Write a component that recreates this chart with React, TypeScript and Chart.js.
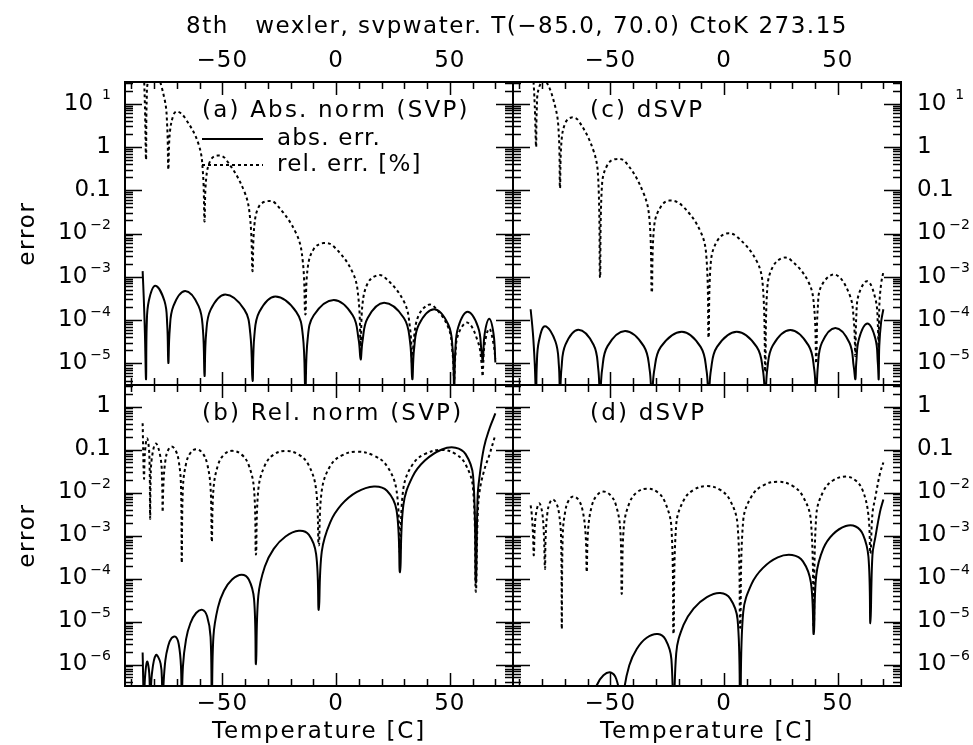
import React, { useEffect, useRef } from "react";
import { Chart, registerables } from "chart.js";

Chart.register(...registerables);

const WIDTH = 973;
const HEIGHT = 745;

// ---------- texts & ticks ----------
const mainTitle = "8th   wexler, svpwater. T(\u221285.0, 70.0) CtoK 273.15";
const xAxisTitle = "Temperature [C]";
const yAxisTitle = "error";
const xTickMajor = [-50, 0, 50];
const xTickLabels = ["\u221250", "0", "50"];
const xTickMinor = [-90, -80, -70, -60, -40, -30, -20, -10, 10, 20, 30, 40, 60, 70];
const topDecades = [1, 0, -1, -2, -3, -4, -5];
const bottomDecades = [0, -1, -2, -3, -4, -5, -6];
const xRange = [-92.75, 77.75];
const topRange = [3.1623e-6, 31.623];
const bottomRange = [3.1623e-7, 3.1623];
const legendLabels = ["abs. err.", "rel. err. [%]"];

type Pt = [number, number];

// ---------- (a) Abs. norm (SVP) ----------
const absA: Pt[] = [
  [-85, 1.35e-3], [-84.5, 3.2e-4], [-84.0, 5.0e-5], [-83.5, 4.3e-6],
  [-83.2, 7.8e-5], [-82.3, 2.75e-4], [-79.5, 6.2e-4], [-75.4, 2.75e-4], [-74.2, 7.8e-5], [-73.7, 1.02e-5],
  [-73.1, 5.9e-5], [-71.5, 2.1e-4], [-66.3, 4.7e-4], [-60.4, 2.1e-4], [-58.5, 5.9e-5], [-57.8, 5.1e-6],
  [-57.1, 4.9e-5], [-55.1, 1.74e-4], [-48.7, 3.9e-4], [-40.3, 1.74e-4], [-37.7, 4.9e-5], [-36.7, 3.9e-6],
  [-35.9, 4.4e-5], [-33.7, 1.55e-4], [-26.7, 3.5e-4], [-17.5, 1.55e-4], [-14.6, 4.4e-5], [-13.5, 2.5e-6],
  [-12.5, 3.6e-5], [-9.8, 1.29e-4], [-1.0, 2.9e-4], [7.3, 1.29e-4], [9.9, 3.6e-5], [10.8, 1.23e-5],
  [11.6, 3.2e-5], [13.9, 1.12e-4], [21.1, 2.5e-4], [29.8, 1.12e-4], [32.5, 3.2e-5], [33.5, 4.3e-6],
  [34.3, 2.2e-5], [36.4, 7.9e-5], [43.1, 1.78e-4], [49.3, 7.9e-5], [51.2, 2.2e-5], [51.9, 2.5e-6],
  [52.4, 1.95e-5], [53.7, 6.9e-5], [57.8, 1.55e-4], [62.4, 6.9e-5], [63.9, 1.95e-5], [64.4, 1.12e-5],
  [64.6, 1.35e-5], [65.3, 4.8e-5], [67.3, 1.07e-4], [69.2, 4.8e-5], [70, 1.05e-5],
];
const relA: Pt[] = [
  [-85, 288], [-84.5, 62], [-84.0, 9.1], [-83.5, 0.51],
  [-83.2, 12.3], [-82.3, 38], [-79.5, 54], [-75.4, 12.9], [-74.2, 2.95], [-73.7, 0.3],
  [-73.1, 1.95], [-71.5, 5.4], [-69.8, 6.6], [-66.3, 4.6], [-60.4, 1.15], [-58.5, 0.25], [-57.8, 0.019],
  [-57.1, 0.182], [-55.1, 0.5], [-52.0, 0.63], [-48.7, 0.54], [-40.3, 0.093], [-37.7, 0.0204], [-36.7, 1.35e-3],
  [-35.9, 0.0155], [-33.7, 0.0437], [-30.0, 0.056], [-26.7, 0.05], [-17.5, 0.01], [-14.6, 2.2e-3], [-13.5, 1.35e-4],
  [-12.5, 1.55e-3], [-9.8, 4.4e-3], [-5.5, 6.0e-3], [-1.0, 5.0e-3], [7.3, 1.26e-3], [9.9, 2.95e-4], [10.8, 2.5e-5],
  [11.6, 2.3e-4], [13.9, 7.1e-4], [17.5, 1.05e-3], [21.1, 1.0e-3], [29.8, 2.7e-4], [32.5, 6.5e-5], [33.5, 8.7e-6],
  [34.3, 4.2e-5], [36.4, 1.32e-4], [40.5, 2.24e-4], [43.1, 2.04e-4], [49.3, 6.8e-5], [51.2, 1.7e-5], [51.9, 4.3e-6],
  [52.4, 1.41e-5], [53.7, 4.7e-5], [57.8, 8.7e-5], [62.4, 3.1e-5], [63.9, 1.05e-5], [64.4, 5.0e-6],
  [64.6, 7.9e-6], [65.3, 2.8e-5], [67.3, 6.3e-5], [69.2, 2.8e-5], [70, 1.26e-5],
];

// ---------- (c) dSVP, abs. norm ----------
const absC: Pt[] = [
  [-85, 1.78e-4], [-84, 5.0e-5], [-83.2, 1.0e-5], [-82.6, 1.58e-6],
  [-82.3, 9.1e-6], [-81.4, 3.2e-5], [-78.7, 7.2e-5], [-74.1, 3.2e-5], [-72.6, 9.1e-6], [-72.1, 1.58e-6],
  [-71.45, 7.6e-6], [-69.7, 2.7e-5], [-64.0, 6.0e-5], [-57.35, 2.7e-5], [-55.3, 7.6e-6], [-54.5, 1.58e-6],
  [-53.6, 7.1e-6], [-51.2, 2.5e-5], [-43.5, 5.6e-5], [-35.3, 2.5e-5], [-32.7, 7.1e-6], [-31.75, 1.58e-6],
  [-30.7, 6.8e-6], [-27.8, 2.4e-5], [-18.55, 5.4e-5], [-10.3, 2.4e-5], [-7.7, 6.8e-6], [-6.8, 1.58e-6],
  [-5.8, 6.8e-6], [-3.1, 2.4e-5], [5.6, 5.4e-5], [14.35, 2.4e-5], [17.1, 6.8e-6], [18.1, 1.58e-6],
  [19.0, 7.4e-6], [21.4, 2.6e-5], [29.1, 5.9e-5], [37.1, 2.6e-5], [39.6, 7.4e-6], [40.5, 1.58e-6],
  [41.2, 8.3e-6], [43.0, 3.0e-5], [48.9, 6.6e-5], [55.1, 3.0e-5], [57.0, 8.3e-6], [57.7, 4.3e-6],
  [58.1, 1.05e-5], [59.3, 3.7e-5], [63.0, 8.3e-5], [66.5, 3.7e-5], [67.55, 1.05e-5], [67.95, 4.3e-6],
  [68.2, 2.5e-5], [69.0, 8.9e-5], [70, 1.78e-4],
];
const relC: Pt[] = [
  [-85, 219], [-84, 52.5], [-83.2, 9.3], [-82.6, 1.0],
  [-82.3, 7.4], [-81.4, 22.9], [-78.7, 34.7], [-74.1, 8.1], [-72.6, 1.86], [-72.1, 0.112],
  [-71.45, 1.32], [-69.7, 3.63], [-67.0, 4.8], [-64.0, 4.07], [-57.35, 0.81], [-55.3, 0.182], [-54.5, 9.5e-4],
  [-53.6, 0.141], [-51.2, 0.389], [-48.0, 0.52], [-43.5, 0.46], [-35.3, 0.083], [-32.7, 0.0186], [-31.75, 4.3e-4],
  [-30.7, 0.0151], [-27.8, 0.0417], [-24.0, 0.0575], [-18.55, 0.0447], [-10.3, 0.011], [-7.7, 2.57e-3], [-6.8, 3.9e-5],
  [-5.8, 2.24e-3], [-3.1, 6.6e-3], [1.0, 0.01], [5.6, 8.5e-3], [14.35, 2.3e-3], [17.1, 5.5e-4], [18.1, 6.3e-6],
  [19.0, 5.5e-4], [21.4, 1.7e-3], [25.5, 2.7e-3], [29.1, 2.5e-3], [37.1, 7.6e-4], [39.6, 1.9e-4], [40.5, 1.0e-5],
  [41.2, 2.0e-4], [43.0, 6.5e-4], [48.9, 1.12e-3], [55.1, 3.9e-4], [57.0, 1.0e-4], [57.7, 1.48e-5],
  [58.1, 1.2e-4], [59.3, 4.1e-4], [63.0, 7.9e-4], [66.5, 3.1e-4], [67.55, 8.3e-5], [67.95, 1.02e-5],
  [68.2, 1.9e-4], [69.0, 6.8e-4], [70, 1.29e-3],
];

// ---------- (b) Rel. norm (SVP) ----------
const absB: Pt[] = [
  [-85, 1.9e-6], [-84.4, 1e-7], [-84.0, 4.6e-7], [-83.05, 1.17e-6], [-82.1, 6.3e-7], [-81.7, 1e-7],
  [-81.5, 1.5e-7], [-80.95, 5.9e-7], [-79.2, 1.66e-6], [-77.1, 1.05e-6], [-76.44, 3.2e-7], [-76.2, 1e-7],
  [-75.89, 3.0e-7], [-75.03, 1.23e-6], [-73.86, 2.6e-6], [-72.3, 4.1e-6], [-70.5, 4.4e-6], [-69.15, 3.0e-6], [-68.16, 9.3e-7], [-67.8, 1e-7],
  [-67.3, 8.9e-7], [-65.91, 3.9e-6], [-64.02, 9.1e-6], [-61.5, 1.58e-5], [-58.74, 1.86e-5], [-56.67, 1.32e-5], [-55.15, 4.4e-6], [-54.6, 1e-7],
  [-53.89, 4.5e-6], [-51.93, 2.1e-5], [-49.26, 5.2e-5], [-45.7, 9.5e-5], [-41.5, 1.23e-4], [-38.35, 9.5e-5], [-36.04, 3.3e-5], [-35.2, 1.02e-6],
  [-34.16, 4.0e-5], [-31.3, 1.9e-4], [-27.4, 4.9e-4], [-22.2, 9.5e-4], [-16.36, 1.29e-3], [-11.98, 1.05e-3], [-8.77, 3.7e-4], [-7.6, 1.86e-5],
  [-6.27, 4.3e-4], [-2.62, 2.0e-3], [2.36, 5.2e-3], [9.0, 0.0102], [16.64, 0.0138], [22.37, 0.011], [26.57, 3.9e-3], [28.1, 1.41e-4],
  [29.57, 5.1e-3], [33.62, 0.0234], [39.14, 0.056], [46.5, 0.1], [52.46, 0.11], [56.93, 0.078], [60.21, 0.0245], [61.4, 8.1e-5],
  [62.2, 7.9e-3], [63.0, 0.0224], [65.0, 0.112], [67.5, 0.316], [70, 0.69],
];
const relB: Pt[] = [
  [-85, 0.41], [-84.4, 0.0214], [-84.0, 0.083], [-83.05, 0.182], [-82.1, 0.083], [-81.7, 2.5e-3],
  [-81.5, 0.0174], [-80.95, 0.063], [-79.2, 0.138], [-77.1, 0.063], [-76.44, 0.0174], [-76.2, 3.5e-3],
  [-75.89, 0.0148], [-75.03, 0.054], [-73.86, 0.095], [-72.3, 0.117], [-70.5, 0.095], [-69.15, 0.054], [-68.16, 0.0148], [-67.8, 2.3e-4],
  [-67.3, 0.0129], [-65.91, 0.047], [-64.02, 0.083], [-61.5, 0.102], [-58.74, 0.083], [-56.67, 0.047], [-55.15, 0.0129], [-54.6, 7.1e-4],
  [-53.89, 0.0117], [-51.93, 0.0427], [-49.26, 0.076], [-45.7, 0.093], [-41.5, 0.076], [-38.35, 0.0427], [-36.04, 0.0117], [-35.2, 3.6e-4],
  [-34.16, 0.0117], [-31.3, 0.0427], [-27.4, 0.076], [-22.2, 0.093], [-16.36, 0.076], [-11.98, 0.0427], [-8.77, 0.0117], [-7.6, 5.9e-4],
  [-6.27, 0.0112], [-2.62, 0.041], [2.36, 0.072], [9.0, 0.089], [16.64, 0.072], [22.37, 0.041], [26.57, 0.0112], [28.1, 4.0e-4],
  [29.57, 0.0123], [33.62, 0.0447], [39.14, 0.079], [46.5, 0.098], [52.46, 0.079], [56.93, 0.0447], [60.21, 0.0123], [61.4, 5.0e-5],
  [62.2, 2.5e-3], [63.0, 0.01], [65.0, 0.0316], [67.5, 0.079], [70, 0.219],
];

// ---------- (d) dSVP, rel. norm ----------
const absD: Pt[] = [
  [-60.35, 1e-8], [-59.76, 3.4e-8], [-58.15, 1.45e-7], [-55.94, 3.3e-7], [-53.0, 5.6e-7], [-49.78, 6.5e-7], [-47.37, 4.6e-7], [-45.59, 1.5e-7], [-44.95, 1e-8],
  [-44.07, 2.1e-7], [-41.67, 9.5e-7], [-38.38, 2.3e-6], [-34.0, 4.2e-6], [-29.08, 5.1e-6], [-25.74, 3.8e-6], [-23.14, 1.32e-6], [-22.2, 1e-8],
  [-21.03, 1.82e-6], [-17.81, 8.3e-6], [-13.41, 2.0e-5], [-7.55, 3.7e-5], [-1.69, 4.6e-5], [2.71, 3.4e-5], [5.93, 1.12e-5], [7.1, 1e-7],
  [8.42, 1.66e-5], [12.05, 7.4e-5], [17.0, 1.74e-4], [23.6, 3.1e-4], [29.92, 3.5e-4], [34.66, 2.5e-4], [38.14, 8.1e-5], [39.4, 5.1e-6],
  [40.53, 1.2e-4], [43.63, 5.0e-4], [47.86, 1.07e-3], [53.5, 1.66e-3], [57.82, 1.62e-3], [61.06, 1.05e-3], [63.44, 3.2e-4], [64.3, 9.1e-6],
  [65.2, 3.5e-4], [66.5, 9.3e-4], [68.5, 3.5e-3], [70, 6.9e-3],
];
const relD: Pt[] = [
  [-85, 5.0e-3], [-84.6, 3.5e-3], [-84.0, 1.2e-3], [-83.6, 3.5e-4],
  [-82.9, 2.5e-3], [-81.2, 5.6e-3], [-79.6, 2.5e-3], [-78.7, 1.7e-4],
  [-78.43, 8.7e-4], [-77.68, 3.2e-3], [-76.66, 5.6e-3], [-75.3, 6.9e-3], [-73.7, 5.6e-3], [-72.5, 3.2e-3], [-71.62, 8.7e-4], [-71.3, 6.6e-6],
  [-70.89, 1.02e-3], [-69.77, 3.7e-3], [-68.24, 6.6e-3], [-66.2, 8.1e-3], [-63.86, 6.6e-3], [-62.11, 3.7e-3], [-60.82, 1.02e-3], [-60.35, 1.41e-4],
  [-59.76, 1.32e-3], [-58.15, 4.8e-3], [-55.94, 8.5e-3], [-53.0, 0.0105], [-49.78, 8.5e-3], [-47.37, 4.8e-3], [-45.59, 1.32e-3], [-44.95, 4.4e-5],
  [-44.07, 1.55e-3], [-41.67, 5.6e-3], [-38.38, 0.01], [-34.0, 0.0123], [-29.08, 0.01], [-25.74, 5.6e-3], [-23.14, 1.55e-3], [-22.2, 5.1e-6],
  [-21.03, 1.78e-3], [-17.81, 6.5e-3], [-13.41, 0.0115], [-7.55, 0.0141], [-1.69, 0.0115], [2.71, 6.5e-3], [5.93, 1.78e-3], [7.1, 7.2e-6],
  [8.42, 2.24e-3], [12.05, 8.1e-3], [17.0, 0.0145], [23.6, 0.0178], [29.92, 0.0145], [34.66, 8.1e-3], [38.14, 2.24e-3], [39.4, 7.2e-6],
  [40.53, 2.95e-3], [43.63, 0.0107], [47.86, 0.019], [53.5, 0.0234], [57.82, 0.019], [61.06, 0.0107], [63.44, 2.95e-3], [64.3, 3.8e-4],
  [65.2, 3.2e-3], [66.5, 7.9e-3], [68.5, 0.0275], [70, 0.05],
];

// ---------- layout ----------
interface PanelCfg {
  rect: [number, number, number, number];
  yRange: number[];
  decades: number[];
  leftLabels: boolean;
  rightLabels: boolean;
  topLabels: boolean;
  bottomLabels: boolean;
  title: string;
  solid: Pt[];
  dotted: Pt[];
  legend: boolean;
  mainTitle: boolean;
}

const COL_L = 125, COL_M = 513, COL_R = 901;
const ROW_T = 82, ROW_M = 385, ROW_B = 686;

const panels: PanelCfg[] = [
  { rect: [COL_L, ROW_T, COL_M, ROW_M], yRange: topRange, decades: topDecades, leftLabels: true, rightLabels: false, topLabels: true, bottomLabels: false, title: "(a) Abs. norm (SVP)", solid: absA, dotted: relA, legend: true, mainTitle: true },
  { rect: [COL_M, ROW_T, COL_R, ROW_M], yRange: topRange, decades: topDecades, leftLabels: false, rightLabels: true, topLabels: true, bottomLabels: false, title: "(c) dSVP", solid: absC, dotted: relC, legend: false, mainTitle: false },
  { rect: [COL_L, ROW_M, COL_M, ROW_B], yRange: bottomRange, decades: bottomDecades, leftLabels: true, rightLabels: false, topLabels: false, bottomLabels: true, title: "(b) Rel. norm (SVP)", solid: absB, dotted: relB, legend: false, mainTitle: false },
  { rect: [COL_M, ROW_M, COL_R, ROW_B], yRange: bottomRange, decades: bottomDecades, leftLabels: false, rightLabels: true, topLabels: false, bottomLabels: true, title: "(d) dSVP", solid: absD, dotted: relD, legend: false, mainTitle: false },
];

const FONT = '"DejaVu Sans", sans-serif';
const BIG = 23;
const SMALL = 14;

function setFont(ctx: CanvasRenderingContext2D, size: number, spacing = 1.5) {
  ctx.font = `${size}px ${FONT}`;
  (ctx as any).letterSpacing = `${spacing}px`;
}

function drawPow(ctx: CanvasRenderingContext2D, e: number, x: number, y: number, align: "left" | "right") {
  ctx.textBaseline = "middle";
  if (e === 0 || e === -1) {
    setFont(ctx, BIG, 0);
    ctx.textAlign = align;
    ctx.fillText(e === 0 ? "1" : "0.1", x, y);
    return;
  }
  const exp = e > 0 ? String(e) : "\u2212" + Math.abs(e);
  ctx.textAlign = "left";
  setFont(ctx, BIG, 0);
  const wBase = ctx.measureText("10").width;
  setFont(ctx, SMALL, 0);
  const wExp = ctx.measureText(exp).width;
  const gap = e > 0 ? 9 : 3;
  const total = wBase + gap + wExp;
  const x0 = align === "left" ? x : x - total;
  setFont(ctx, BIG, 0);
  ctx.fillText("10", x0, y);
  setFont(ctx, SMALL, 0);
  ctx.fillText(exp, x0 + wBase + gap, y - 8);
}

function makeDecor(cfg: PanelCfg) {
  return {
    id: "panelDecor",
    afterDraw(chart: any) {
      const ctx: CanvasRenderingContext2D = chart.ctx;
      const { left, top, right, bottom } = chart.chartArea;
      const xs = chart.scales.x;
      const ys = chart.scales.y;
      ctx.save();
      ctx.strokeStyle = "#000";
      ctx.fillStyle = "#000";
      ctx.lineWidth = 2;
      ctx.strokeRect(left, top, right - left, bottom - top);

      ctx.lineWidth = 1.5;
      ctx.beginPath();
      const xt = [...xTickMajor, ...xTickMinor];
      for (const v of xt) {
        const px = Math.round(xs.getPixelForValue(v)) + 0.5;
        const len = xTickMajor.includes(v) ? 13 : 7;
        ctx.moveTo(px, top);
        ctx.lineTo(px, top + len);
        ctx.moveTo(px, bottom);
        ctx.lineTo(px, bottom - len);
      }
      const lo = Math.floor(Math.log10(cfg.yRange[0]));
      const hi = Math.ceil(Math.log10(cfg.yRange[1]));
      for (let e = lo; e <= hi; e++) {
        for (let m = 1; m <= 9; m++) {
          const v = m * Math.pow(10, e);
          if (v < cfg.yRange[0] || v > cfg.yRange[1]) continue;
          const py = Math.round(ys.getPixelForValue(v)) + 0.5;
          const len = m === 1 ? 17 : 8;
          ctx.moveTo(left, py);
          ctx.lineTo(left + len, py);
          ctx.moveTo(right, py);
          ctx.lineTo(right - len, py);
        }
      }
      ctx.stroke();

      // x tick labels
      setFont(ctx, BIG, 1);
      ctx.textAlign = "center";
      ctx.textBaseline = "middle";
      xTickMajor.forEach((v, i) => {
        const px = xs.getPixelForValue(v);
        if (cfg.topLabels) ctx.fillText(xTickLabels[i], px, top - 21);
        if (cfg.bottomLabels) ctx.fillText(xTickLabels[i], px, bottom + 18);
      });

      // y tick labels
      for (const e of cfg.decades) {
        const py = ys.getPixelForValue(Math.pow(10, e));
        if (cfg.leftLabels) drawPow(ctx, e, left - 14, py, "right");
        if (cfg.rightLabels) drawPow(ctx, e, right + 16, py, "left");
      }

      // panel title
      setFont(ctx, BIG, 2.2);
      ctx.textAlign = "left";
      ctx.textBaseline = "middle";
      ctx.fillText(cfg.title, left + 77, top + 29);

      // axis titles
      setFont(ctx, BIG, 1.8);
      if (cfg.bottomLabels) {
        ctx.textAlign = "center";
        ctx.fillText(xAxisTitle, (left + right) / 2, bottom + 46);
      }
      if (cfg.leftLabels) {
        ctx.save();
        ctx.translate(28, (top + bottom) / 2);
        ctx.rotate(-Math.PI / 2);
        ctx.textAlign = "center";
        ctx.fillText(yAxisTitle, 0, 0);
        ctx.restore();
      }

      if (cfg.mainTitle) {
        setFont(ctx, BIG, 1.5);
        ctx.textAlign = "center";
        ctx.fillText(mainTitle, (COL_L + COL_R) / 2 + 4, 27);
      }

      if (cfg.legend) {
        const lx0 = left + 77;
        const lx1 = left + 138;
        const ly = [top + 57, top + 83];
        ctx.lineWidth = 2;
        ctx.beginPath();
        ctx.moveTo(lx0, ly[0]);
        ctx.lineTo(lx1, ly[0]);
        ctx.stroke();
        ctx.setLineDash([3, 3]);
        ctx.beginPath();
        ctx.moveTo(lx0, ly[1]);
        ctx.lineTo(lx1, ly[1]);
        ctx.stroke();
        ctx.setLineDash([]);
        setFont(ctx, BIG, 1.2);
        ctx.textAlign = "left";
        ctx.fillText(legendLabels[0], left + 152, ly[0]);
        ctx.fillText(legendLabels[1], left + 152, ly[1]);
      }
      ctx.restore();
    },
  };
}

function Panel({ cfg }: { cfg: PanelCfg }) {
  const ref = useRef<HTMLCanvasElement>(null);
  useEffect(() => {
    const canvas = ref.current;
    if (!canvas) return;
    const [l, t, r, b] = cfg.rect;
    const lineStyle = {
      borderColor: "#000",
      borderWidth: 2,
      pointRadius: 0,
      tension: 0.4,
      cubicInterpolationMode: "default",
      borderJoinStyle: "round",
      fill: false,
    };
    const chart = new Chart(canvas, {
      type: "line",
      data: {
        datasets: [
          { ...lineStyle, data: cfg.solid.map(([x, y]) => ({ x, y })) },
          { ...lineStyle, borderDash: [3, 3], data: cfg.dotted.map(([x, y]) => ({ x, y })) },
        ],
      },
      options: {
        animation: false,
        responsive: false,
        devicePixelRatio: 1,
        events: [],
        elements: { line: { capBezierPoints: false } },
        layout: { padding: { left: l, top: t, right: WIDTH - r, bottom: HEIGHT - b } },
        plugins: { legend: { display: false }, tooltip: { enabled: false }, title: { display: false } },
        scales: {
          x: { type: "linear", display: false, min: xRange[0], max: xRange[1] },
          y: { type: "logarithmic", display: false, min: cfg.yRange[0], max: cfg.yRange[1] },
        },
      },
      plugins: [makeDecor(cfg)],
    } as any);
    return () => chart.destroy();
  }, [cfg]);
  return (
    <canvas
      ref={ref}
      width={WIDTH}
      height={HEIGHT}
      style={{ position: "absolute", left: 0, top: 0, width: WIDTH, height: HEIGHT }}
    />
  );
}

export default function App() {
  return (
    <div style={{ position: "fixed", left: 0, top: 0, width: WIDTH, height: HEIGHT, background: "#fff" }}>
      {panels.map((p, i) => (
        <Panel key={i} cfg={p} />
      ))}
    </div>
  );
}
